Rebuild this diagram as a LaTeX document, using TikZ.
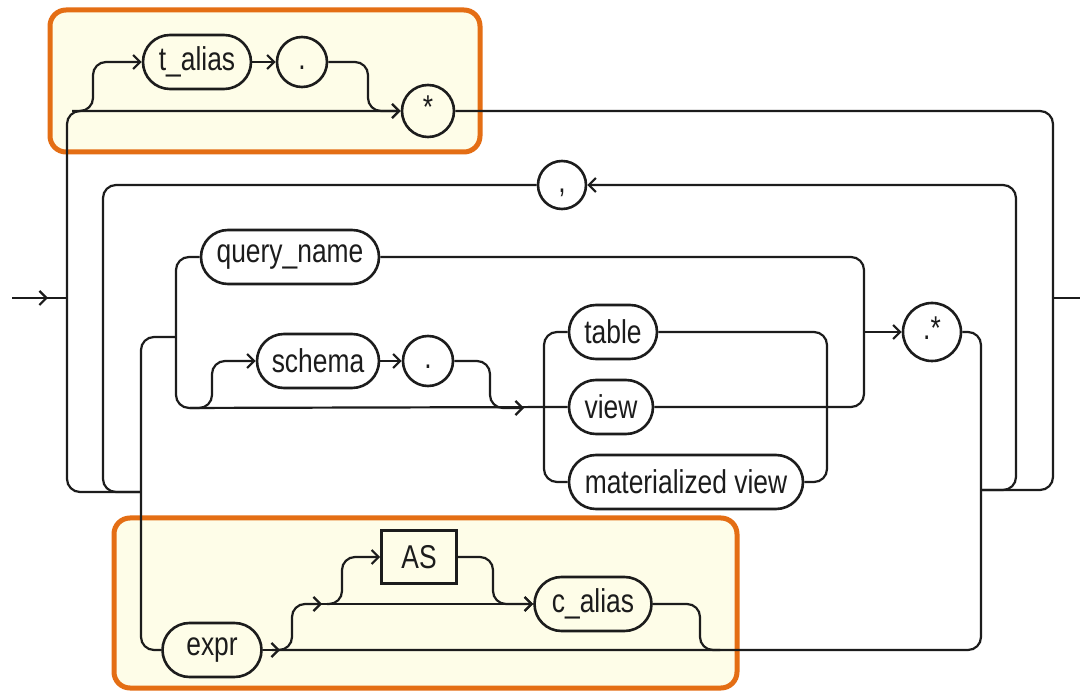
\documentclass[tikz,border=0pt]{standalone}
\usepackage{fontspec}
\setmainfont[FakeStretch=0.8]{Liberation Sans}
\usetikzlibrary{arrows.meta,shapes.misc}
\definecolor{hlor}{RGB}{228,110,20}
\definecolor{hlfill}{RGB}{254,253,232}
\definecolor{ink}{RGB}{28,28,28}
\begin{document}
\begin{tikzpicture}[x=1pt,y=-1pt,
  line width=2.2pt, draw=ink,
  rc/.style={rounded corners=13pt},
  arr/.style={-{Straight Barb[length=7pt,width=14pt]}},
  lbl/.style={font=\fontsize{33}{38}\selectfont,text=ink},
  pill/.style={lbl,draw=ink,line width=2.6pt,rounded rectangle,minimum height=54pt,inner xsep=4pt},
  circ/.style={lbl,draw=ink,line width=2.6pt,circle,minimum size=50pt,inner sep=0pt,text height=16pt,text depth=0pt},
  kw/.style={lbl,draw=ink,line width=2.6pt,rectangle,minimum height=53pt,minimum width=75pt},
  hl/.style={draw=hlor,fill=hlfill,line width=5pt,rounded corners=16pt}]
\useasboundingbox (0,0) rectangle (1080,692);
\fill[white] (0,0) rectangle (1080,692);
% highlight boxes
\draw[hl] (50,10) rectangle (480,152);
\draw[hl] (114,518) rectangle (737,688);
% nodes
\node[pill,minimum width=116pt] (tal) at (197,62) {t\_alias};
\node[circ] (dot1) at (302,62) {.};
\node[circ,minimum size=52pt] (star) at (428,111) {*};
\node[circ,minimum size=48pt] (comma) at (562,185) {,};
\node[pill,minimum width=186pt] (qn) at (290,257) {query\_name};
\node[pill,minimum width=130pt] (sch) at (318,361) {schema};
\node[circ] (dot2) at (428,361) {.};
\node[pill,minimum width=96pt] (tbl) at (613,332) {table};
\node[pill,minimum width=92pt] (vw) at (611,407) {view};
\node[pill,minimum width=242pt] (mv) at (686,482) {materialized view};
\node[circ,minimum size=58pt] (dstar) at (932,332) {.*};
\node[pill,minimum width=107pt] (expr) at (212,650) {expr};
\node[kw] (as) at (419,557) {AS};
\node[pill,minimum width=125pt] (cal) at (593,604) {c\_alias};
\coordinate (in) at (12,298);
\coordinate (out) at (1080,298);
% entry / exit
\draw[arr] (in) -- (48,298);
\draw (46,298) -- (67,298);
\draw (1053,298) -- (out);
% outer loop (t_alias . *)
\draw[rc,arr] (141,492) -- (67,492) -- (67,111) -- (star.west);
\draw[rc,arr] (72,111) -| (93,62) -- (tal.west);
\draw[arr] (tal.east) -- (dot1.west);
\draw[rc,arr] (dot1.east) -| (368,111) -- (star.west);
\draw[rc] (star.east) -| (1053,298);
\draw[rc] (981,490) -| (1053,298);
% comma loop
\draw[rc,arr] (981,490) -| (1016,185) -- (comma.east);
\draw[rc] (comma.west) -| (103,492) -- (141,492);
% query_name / schema branch
\draw[rc] (176,337) -| (141,650) -- (expr.west);
\draw[rc] (qn.west) -| (176,408) -- (vw.west);
\draw[rc,arr] (190,408) -| (212,361) -- (sch.west);
\draw[arr] (sch.east) -- (dot2.west);
\draw[rc,arr] (dot2.east) -| (490,408) -- (524,408);
\draw[rc] (tbl.west) -| (544,482) -- (mv.west);
\draw[rc] (tbl.east) -| (827,482) -- (mv.east);
\draw[rc] (qn.east) -| (864,407) -- (vw.east);
\draw[arr] (864,332) -- (dstar.west);
\draw[rc] (dstar.east) -| (981,650) -- (278,650);
% expr AS c_alias
\draw[arr] (expr.east) -- (280,650);
\draw[rc,arr] (272,650) -| (292,604) -- (322,604);
\draw[arr] (320,604) -- (cal.west);
\draw[rc,arr] (327,604) -| (342,557) -- (as.west);
\draw[rc,arr] (as.east) -| (493,604) -- (cal.west);
\draw[rc] (cal.east) -| (700,650) -- (720,650);
\end{tikzpicture}
\end{document}
